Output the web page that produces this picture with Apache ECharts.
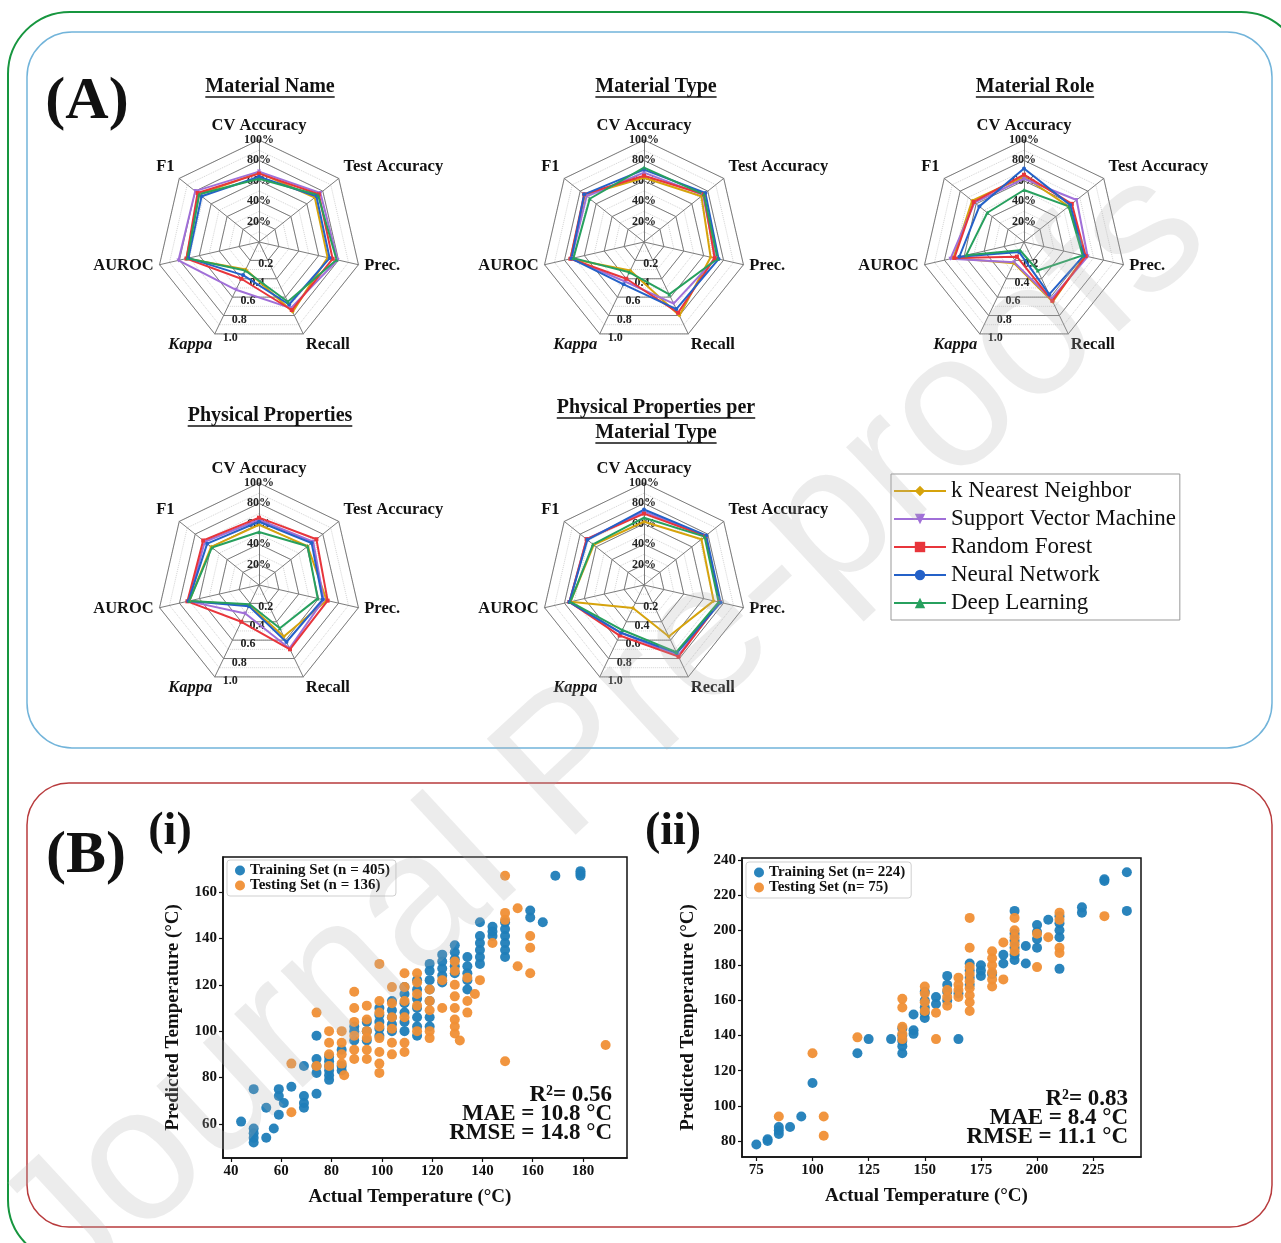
<!DOCTYPE html>
<html>
<head>
<meta charset="utf-8">
<script src="https://cdn.jsdelivr.net/npm/echarts@6/dist/echarts.min.js"></script>
<style>
html,body{margin:0;padding:0;background:#fff;}
#c{width:1281px;height:1243px;}
</style>
</head>
<body>
<div id="c"></div>
<script>
// ---------------- DATA ----------------
const models = ['k Nearest Neighbor', 'Support Vector Machine', 'Random Forest', 'Neural Network', 'Deep Learning'];
// metrics in clockwise order from the top
const metrics = ['CV Accuracy', 'Test Accuracy', 'Prec.', 'Recall', 'Kappa', 'AUROC', 'F1'];
const percentTicks = ['20%', '40%', '60%', '80%', '100%'];
const kappaTicks = ['0.2', '0.4', '0.6', '0.8', '1.0'];
const radarTitles = ['Material Name', 'Material Type', 'Material Role', 'Physical Properties', 'Physical Properties per\nMaterial Type'];

// values per model: [CV, Test, Prec, Recall, Kappa(0-1), AUROC, F1]
const materialName = [
  [68, 70, 69, 76, 0.30, 73, 75],
  [69, 77, 79, 72, 0.52, 81, 80],
  [67, 75, 74, 74, 0.40, 73, 77],
  [64, 72, 71, 68, 0.36, 71, 72],
  [62, 74, 78, 65, 0.31, 72, 75]
];
const materialType = [
  [63, 72, 67, 80, 0.31, 74, 74],
  [68, 74, 72, 67, 0.43, 73, 72],
  [65, 75, 71, 77, 0.40, 74, 75],
  [71, 77, 75, 73, 0.46, 73, 75],
  [73, 75, 74, 57, 0.33, 71, 68]
];
const materialRole = [
  [64, 56, 61, 65, 0.23, 71, 65],
  [62, 66, 64, 62, 0.22, 74, 62],
  [66, 60, 62, 64, 0.16, 70, 63],
  [72, 58, 60, 57, 0.11, 65, 56],
  [51, 56, 59, 31, 0.09, 58, 46]
];
const physicalProps = [
  [59, 61, 68, 56, 0.22, 70, 60],
  [64, 68, 65, 69, 0.31, 71, 68],
  [66, 72, 69, 70, 0.40, 72, 70],
  [62, 66, 64, 62, 0.23, 71, 65],
  [52, 61, 59, 47, 0.21, 70, 59]
];
const physicalPropsPerType = [
  [62, 72, 70, 56, 0.25, 74, 63],
  [72, 77, 76, 77, 0.52, 75, 72],
  [70, 77, 76, 78, 0.55, 75, 72],
  [74, 78, 77, 74, 0.52, 75, 71],
  [66, 76, 75, 73, 0.49, 74, 64]
];

// scatter (i)
const train1 = [
  [44,61],[49,52],[49,54],[49,56],[49,58],[49,75],[54,54],[54,67],[57,58],
  [59,64],[59,72],[59,75],[61,69],[64,76],[69,67],[69,69],[69,72],[69,85],
  [74,73],[74,82],[74,85],[74,88],[74,98],
  [79,79],[79,81],[79,83],[79,85],[79,87],[79,89],
  [84,83],[84,85],[84,92],[89,96],[89,100],[89,102],[94,96],[94,100],[94,104],
  [99,98],[99,101],[99,104],[99,107],[99,110],
  [104,100],[104,103],[104,106],[104,109],[104,113],
  [109,100],[109,104],[109,108],[109,112],[109,116],[109,119],
  [114,98],[114,102],[114,106],[114,110],[114,114],[114,118],[114,122],
  [119,102],[119,106],[119,113],[119,118],[119,122],[119,126],[119,129],
  [124,121],[124,124],[124,127],[124,130],[124,133],
  [129,125],[129,128],[129,131],[129,134],[129,137],
  [134,118],[134,122],[134,125],[134,128],[134,132],
  [139,129],[139,132],[139,135],[139,138],[139,141],[139,147],
  [144,141],[144,143],[144,145],
  [149,132],[149,135],[149,138],[149,141],[149,144],[149,147],
  [159,149],[159,152],[164,147],[169,167],[179,167],[179,168],[179,169]
];
const test1 = [
  [64,65],[64,86],[74,85],[74,108],
  [79,85],[79,90],[79,95],[79,100],
  [84,86],[84,90],[84,95],[84,100],[85,81],
  [89,88],[89,92],[89,98],[89,104],[89,110],[89,117],
  [94,88],[94,92],[94,97],[94,100],[94,105],[94,111],
  [99,82],[99,86],[99,91],[99,97],[99,102],[99,108],[99,113],[99,129],
  [104,90],[104,95],[104,101],[104,106],[104,112],[104,119],
  [109,91],[109,95],[109,106],[109,113],[109,119],[109,125],
  [114,100],[114,111],[114,116],[114,121],[114,125],
  [119,97],[119,100],[119,109],[119,113],[119,118],
  [124,110],[124,122],
  [129,99],[129,102],[129,105],[129,110],[129,115],[129,120],[129,126],[129,130],[131,96],
  [134,108],[134,113],[134,123],[137,116],[139,122],[144,138],
  [149,87],[149,148],[149,151],[149,167],[154,128],[154,153],
  [159,125],[159,136],[159,141],[189,94]
];
// scatter (ii)
const train2 = [
  [75,78],[80,80],[80,81],[85,84],[85,86],[85,88],[90,88],[95,94],[100,113],
  [120,130],[125,138],[135,138],
  [140,130],[140,134],[140,137],[140,140],[140,144],
  [145,141],[145,143],[145,152],
  [150,150],[150,153],[150,156],[150,160],[150,165],
  [155,158],[155,162],[160,160],[160,165],[160,169],[160,174],
  [165,138],[165,164],[170,169],[170,173],[170,177],[170,181],
  [175,174],[175,177],[175,180],[180,175],[185,181],[185,186],
  [190,183],[190,186],[190,190],[190,194],[190,198],[190,211],
  [195,181],[195,191],[200,190],[200,195],[200,199],[200,203],[205,206],
  [210,178],[210,196],[210,200],[210,204],[210,208],
  [220,210],[220,213],[230,228],[230,229],[240,211],[240,233]
];
const test2 = [
  [85,94],[100,130],[105,83],[105,94],[120,139],
  [140,138],[140,141],[140,145],[140,156],[140,161],
  [150,154],[150,159],[150,164],[150,168],[155,138],[155,153],
  [160,157],[160,162],[160,166],[165,162],[165,166],[165,169],[165,173],
  [170,154],[170,159],[170,163],[170,167],[170,171],[170,175],[170,179],[170,190],[170,207],
  [180,168],[180,172],[180,176],[180,180],[180,184],[180,188],
  [185,172],[185,193],[190,188],[190,192],[190,196],[190,200],[190,207],
  [200,179],[200,198],[205,196],[210,187],[210,190],[210,206],[210,210],[230,208]
];
const xTicks1 = [40, 60, 80, 100, 120, 140, 160, 180];
const yTicks1 = [60, 80, 100, 120, 140, 160];
const xTicks2 = [75, 100, 125, 150, 175, 200, 225];
const yTicks2 = [80, 100, 120, 140, 160, 180, 200, 220, 240];
const seriesNames1 = ['Training Set (n = 405)', 'Testing Set (n = 136)'];
const seriesNames2 = ['Training Set (n= 224)', 'Testing Set (n= 75)'];
const stats1 = ['R\u00b2= 0.56', 'MAE = 10.8 \u00b0C', 'RMSE = 14.8 \u00b0C'];
const stats2 = ['R\u00b2= 0.83', 'MAE = 8.4 \u00b0C', 'RMSE = 11.1 \u00b0C'];

// ---------------- STYLE ----------------
const SERIF = 'Liberation Serif';
const modelColors = ['#d6a30c', '#a06fd8', '#e8353b', '#2461c8', '#27a05e'];
const modelSymbols = ['diamond', 'path://M0,0L10,0L5,9Z', 'rect', 'circle', 'triangle'];
const blue = '#1f7db8', orange = '#f08f35';
const radarSets = [materialName, materialType, materialRole, physicalProps, physicalPropsPerType];
const radarCenters = [[259, 242], [644, 242], [1024, 242], [259, 585], [644, 585]];
const titlePos = [[270, 87], [656, 87], [1035, 87], [270, 416], [656, 408]];

// ECharts places indicators counter-clockwise: CV, F1, AUROC, Kappa, Recall, Prec, Test
const ecOrder = [0, 6, 5, 4, 3, 2, 1];
const labelFont = { fontFamily: SERIF, fontWeight: 'bold', fontSize: 12, color: '#222' };
const indicatorList = ecOrder.map(i => {
  const name = metrics[i];
  const ind = { name: name, max: name === 'Kappa' ? 1 : 100, min: 0 };
  if (name === 'CV Accuracy') {
    ind.axisLabel = Object.assign({ show: true, margin: 0, align: 'center', verticalAlign: 'middle',
      formatter: v => percentTicks[Math.round(v / 20) - 1] || '' }, labelFont);
  } else if (name === 'Kappa') {
    ind.axisLabel = Object.assign({ show: true, margin: 9,
      formatter: v => kappaTicks[Math.round(v * 5) - 1] || '' }, labelFont);
  }
  return ind;
});
const minorIndicators = ecOrder.map(i => ({ name: '', max: 100, min: 0 }));

const nameRich = {
  b: { fontFamily: SERIF, fontWeight: 'bold', fontSize: 16.5, color: '#111' },
  k: { fontFamily: SERIF, fontWeight: 'bold', fontStyle: 'italic', fontSize: 16.5, color: '#111' },
  up: { lineHeight: 15, fontSize: 1 },
  dn: { lineHeight: 10, fontSize: 1 }
};
function nameFormatter(n) {
  if (n === 'Kappa') return '{dn| }\n{k|Kappa}';
  if (n === 'Recall') return '{dn| }\n{b|Recall}';
  if (n === 'F1' || n === 'Test Accuracy') return '{b|' + n + '}\n{up| }';
  return '{b|' + n + '}';
}

const radars = radarCenters.map(c => ({
  center: c, radius: 102, startAngle: 90, splitNumber: 5, shape: 'polygon', z: 3,
  indicator: indicatorList,
  nameGap: 6,
  axisName: { color: '#111', fontFamily: SERIF, fontWeight: 'bold', fontSize: 16.5, formatter: nameFormatter, rich: nameRich },
  axisLabel: { show: false },
  axisTick: { show: false },
  axisLine: { lineStyle: { color: '#7c7c7c', width: 1 } },
  splitLine: { lineStyle: { color: '#7c7c7c', width: 1 } },
  splitArea: { show: false }
})).concat(radarCenters.map(c => ({
  center: c, radius: 102, startAngle: 90, splitNumber: 10, shape: 'polygon', z: 1,
  indicator: minorIndicators,
  axisName: { show: false },
  axisLabel: { show: false },
  axisTick: { show: false },
  axisLine: { show: false },
  splitLine: { lineStyle: { color: '#d4d4d4', width: 1, type: 'dotted' } },
  splitArea: { show: false }
})));

const series = [];
// legend proxies (line icons with markers)
models.forEach((m, i) => {
  series.push({ type: 'line', name: m, data: [], xAxisIndex: 0, yAxisIndex: 0,
    color: modelColors[i], symbol: modelSymbols[i],
    lineStyle: { color: modelColors[i], width: 3 }, itemStyle: { color: modelColors[i] } });
});
radarSets.forEach((set, r) => {
  series.push({
    type: 'radar', radarIndex: r, silent: true, z: 4,
    data: set.map((vals, i) => ({
      name: models[i],
      value: ecOrder.map(k => vals[k]),
      symbol: modelSymbols[i], symbolSize: 4,
      lineStyle: { color: modelColors[i], width: 2 },
      itemStyle: { color: modelColors[i] }
    }))
  });
});
series.push({ type: 'scatter', name: seriesNames1[0], xAxisIndex: 0, yAxisIndex: 0, data: train1, symbolSize: 10, itemStyle: { color: blue, opacity: 0.95 } });
series.push({ type: 'scatter', name: seriesNames1[1], xAxisIndex: 0, yAxisIndex: 0, data: test1, symbolSize: 10, itemStyle: { color: orange, opacity: 0.95 } });
series.push({ type: 'scatter', name: seriesNames2[0], xAxisIndex: 1, yAxisIndex: 1, data: train2, symbolSize: 10, itemStyle: { color: blue, opacity: 0.95 } });
series.push({ type: 'scatter', name: seriesNames2[1], xAxisIndex: 1, yAxisIndex: 1, data: test2, symbolSize: 10, itemStyle: { color: orange, opacity: 0.95 } });

const axisFont = { fontFamily: SERIF, fontWeight: 'bold', fontSize: 15, color: '#111' };
const nameFont = { fontFamily: SERIF, fontWeight: 'bold', fontSize: 19, color: '#111' };
function xAx(grid, min, max, ticks) {
  return { type: 'value', gridIndex: grid, min: min, max: max,
    splitLine: { show: false },
    axisLine: { show: true, onZero: false, lineStyle: { color: '#111', width: 1.5 } },
    axisTick: { show: true, length: 4, customValues: ticks, lineStyle: { color: '#111', width: 1.2 } },
    axisLabel: Object.assign({ customValues: ticks, margin: 6 }, axisFont),
    name: 'Actual Temperature (\u00b0C)', nameLocation: 'middle', nameGap: 30,
    nameTextStyle: Object.assign({ padding: [0, 30, 0, 0] }, nameFont) };
}
function yAx(grid, min, max, ticks, gap) {
  return { type: 'value', gridIndex: grid, min: min, max: max,
    splitLine: { show: false },
    axisLine: { show: true, onZero: false, lineStyle: { color: '#111', width: 1.5 } },
    axisTick: { show: true, length: 4, customValues: ticks, lineStyle: { color: '#111', width: 1.2 } },
    axisLabel: Object.assign({ customValues: ticks, margin: 6 }, axisFont),
    name: 'Predicted Temperature (\u00b0C)', nameLocation: 'middle', nameGap: gap,
    nameTextStyle: Object.assign({ padding: [0, 20, 0, 0] }, nameFont) };
}

// text measurement for underlines
const mctx = document.createElement('canvas').getContext('2d');
function textWidth(t, font) { mctx.font = font; return mctx.measureText(t).width; }

const graphics = [];
// panel borders
graphics.push({ type: 'rect', silent: true, shape: { x: 8, y: 12, width: 1295, height: 1250, r: 62 }, style: { fill: 'none', stroke: '#17963f', lineWidth: 2 } });
graphics.push({ type: 'rect', silent: true, shape: { x: 27, y: 32, width: 1245, height: 716, r: 45 }, style: { fill: 'none', stroke: '#72b4da', lineWidth: 1.5 } });
graphics.push({ type: 'rect', silent: true, shape: { x: 27, y: 783, width: 1245, height: 444, r: 42 }, style: { fill: 'none', stroke: '#b83b3d', lineWidth: 1.5 } });

function txt(t, x, y, font, align, extra) {
  return Object.assign({ type: 'text', silent: true, x: x, y: y,
    style: { text: t, font: font, fill: '#111', align: align || 'center', textAlign: align || 'center',
      verticalAlign: 'middle', textVerticalAlign: 'middle' } }, extra || {});
}
graphics.push(txt('(A)', 87, 102, 'bold 60px "Liberation Serif"'));
graphics.push(txt('(B)', 86, 856, 'bold 60px "Liberation Serif"'));
graphics.push(txt('(i)', 170, 832, 'bold 46px "Liberation Serif"'));
graphics.push(txt('(ii)', 673, 832, 'bold 46px "Liberation Serif"'));

// radar titles with underline
const titleFont = 'bold 20px "Liberation Serif"';
radarTitles.forEach((t, i) => {
  const lines = t.split('\n');
  lines.forEach((ln, j) => {
    const x = titlePos[i][0], y = titlePos[i][1] + j * 25;
    graphics.push(txt(ln, x, y, titleFont));
    const w = textWidth(ln, titleFont);
    graphics.push({ type: 'line', silent: true, shape: { x1: x - w / 2, y1: y + 10, x2: x + w / 2, y2: y + 10 }, style: { stroke: '#111', lineWidth: 1.3 } });
  });
});

// stats
const statFont = 'bold 23px "Liberation Serif"';
graphics.push({ type: 'text', silent: true, x: 612, y: 1114, style: { text: stats1.join('\n'), font: statFont, fill: '#111', lineHeight: 19, align: 'right', textAlign: 'right', verticalAlign: 'middle', textVerticalAlign: 'middle' } });
graphics.push({ type: 'text', silent: true, x: 1128, y: 1118, style: { text: stats2.join('\n'), font: statFont, fill: '#111', lineHeight: 19, align: 'right', textAlign: 'right', verticalAlign: 'middle', textVerticalAlign: 'middle' } });

// watermark
graphics.push({ type: 'text', silent: true, z: 100, x: 606, y: 735, rotation: 42.8 * Math.PI / 180,
  style: { text: 'Journal Pre-proofs', font: '190px "Liberation Sans"', fill: 'rgba(175,175,175,0.24)',
    align: 'center', textAlign: 'center', verticalAlign: 'middle', textVerticalAlign: 'middle' } });

const option = {
  animation: false,
  backgroundColor: '#ffffff',
  radar: radars,
  grid: [
    { left: 223, top: 857, width: 404, height: 301, show: true, borderColor: '#111', borderWidth: 1.5, backgroundColor: 'transparent' },
    { left: 742, top: 858, width: 399, height: 299, show: true, borderColor: '#111', borderWidth: 1.5, backgroundColor: 'transparent' }
  ],
  xAxis: [xAx(0, 36.8, 197.5, xTicks1), xAx(1, 68.6, 246.3, xTicks2)],
  yAxis: [yAx(0, 45.3, 175.1, yTicks1, 40), yAx(1, 70.9, 241.1, yTicks2, 44)],
  legend: [
    { data: models, orient: 'vertical', left: 891, top: 474, selectedMode: false,
      itemWidth: 52, itemHeight: 13, itemGap: 4, padding: [5, 4, 5, 2],
      textStyle: { fontFamily: SERIF, fontSize: 23, color: '#111', lineHeight: 24 },
      backgroundColor: '#fff', borderColor: '#999', borderWidth: 1 },
    { data: seriesNames1, orient: 'vertical', left: 227, top: 860, selectedMode: false, icon: 'circle',
      itemWidth: 10, itemHeight: 10, itemGap: 0, padding: [3, 6, 3, 8],
      textStyle: { fontFamily: SERIF, fontWeight: 'bold', fontSize: 15, color: '#111', lineHeight: 14 },
      backgroundColor: 'rgba(255,255,255,0.85)', borderColor: '#cfcfcf', borderWidth: 1, borderRadius: 3 },
    { data: seriesNames2, orient: 'vertical', left: 746, top: 862, selectedMode: false, icon: 'circle',
      itemWidth: 10, itemHeight: 10, itemGap: 0, padding: [3, 6, 3, 8],
      textStyle: { fontFamily: SERIF, fontWeight: 'bold', fontSize: 15, color: '#111', lineHeight: 14 },
      backgroundColor: 'rgba(255,255,255,0.85)', borderColor: '#cfcfcf', borderWidth: 1, borderRadius: 3 }
  ],
  series: series,
  graphic: graphics
};

const chart = echarts.init(document.getElementById('c'), null, { renderer: 'canvas' });
chart.setOption(option);
</script>
</body>
</html>
